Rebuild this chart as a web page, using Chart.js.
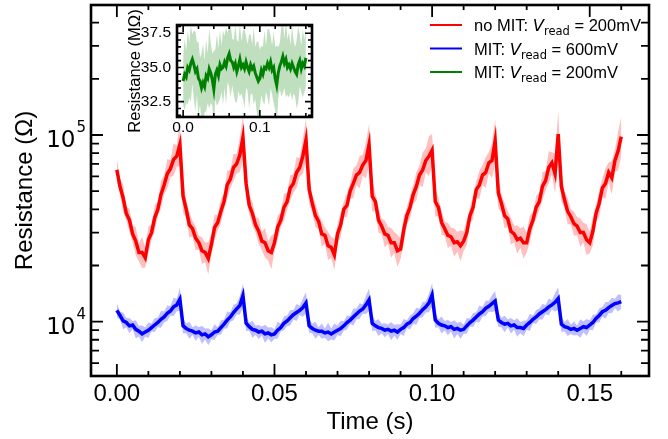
<!DOCTYPE html>
<html>
<head>
<meta charset="utf-8">
<script src="https://cdn.jsdelivr.net/npm/chart.js@4.4.0/dist/chart.umd.min.js"></script>
<style>
  body { margin: 0; background: #fff; }
  #wrap { position: relative; width: 668px; height: 439px; }
  #main { position: absolute; left: 0; top: 0; }
  #inset { position: absolute; left: 110px; top: 0; }
</style>
</head>
<body>
<div id="wrap">
  <canvas id="main" width="668" height="439"></canvas>
  <canvas id="inset" width="215" height="140"></canvas>
</div>
<script>
// sampling steps (s)
const mainStep = 0.001;
const insetStep = 0.002;

// no MIT, Vread = 200mV  (kOhm)
const redRes = [
  65, 53, 46, 38, 35, 29.5, 27, 23.5, 23.5, 22, 27.5, 30, 36, 40, 48, 54, 62, 66, 74, 77, 89,
  47, 40, 33, 31.5, 28, 26.5, 24, 23.5, 21.8, 26, 32, 34, 39, 44, 54, 58, 67, 70, 78, 97,
  55, 42, 38, 33, 30.5, 27, 26.5, 24, 23.5, 26.5, 32, 35, 41, 44, 52, 55, 63, 67, 77, 94,
  51, 43, 37, 34.5, 29.5, 29, 25.5, 25, 22.8, 29.5, 33, 40, 42, 50, 55, 61, 63, 69, 73, 89,
  47, 44, 35, 32.5, 29.5, 29, 26.5, 26.5, 24, 24.5, 31, 37, 41, 48, 53, 61, 65, 73, 77, 83,
  44, 41, 34, 31.5, 29, 28.5, 26.5, 26.8, 25.5, 27, 30, 37, 41, 51, 54, 61, 63, 71, 73, 93,
  49, 43, 37, 35.5, 30.5, 29.5, 27.5, 28, 26.5, 26.5, 31.5, 35, 41, 44, 53, 57, 67, 71, 62, 101,
  53, 45, 39, 36.5, 33.5, 32.5, 30, 30, 27.5, 26.5, 30.5, 38, 43, 52, 55, 63, 59, 73, 82, 98
];
// band half-width, percent
const redSpread = [
  16, 10, 18, 9, 15, 11, 19, 12, 21, 13, 18, 10, 17, 9, 19, 12, 20, 11, 22, 14, 30,
  22, 12, 17, 10, 16, 9, 18, 13, 22, 14, 17, 10, 16, 11, 19, 12, 18, 13, 23, 32,
  20, 11, 16, 10, 17, 12, 20, 13, 23, 12, 16, 9, 18, 11, 17, 12, 21, 12, 24, 30,
  19, 12, 15, 10, 17, 11, 19, 14, 21, 12, 17, 10, 16, 10, 20, 13, 22, 14, 25, 29,
  21, 11, 17, 10, 18, 11, 20, 14, 22, 13, 18, 11, 15, 12, 19, 13, 24, 16, 28, 22,
  20, 12, 16, 9, 17, 12, 19, 13, 21, 13, 17, 10, 16, 11, 19, 13, 21, 14, 24, 30,
  21, 12, 17, 10, 18, 11, 19, 13, 22, 13, 18, 10, 15, 11, 19, 13, 22, 14, 28, 32,
  20, 11, 17, 10, 16, 12, 19, 13, 21, 14, 19, 11, 17, 12, 21, 13, 23, 15, 27, 28
];

// MIT, Vread = 600mV  (kOhm)
const blueRes = [
  11.5, 10.8, 10.1, 9.9, 9.5, 9.6, 9.1, 8.9, 8.6, 8.8, 9.0, 9.3, 9.6, 9.9, 10.3, 10.6, 11.1, 11.4, 12.0, 12.3, 13.2,
  9.5, 9.2, 9.0, 8.9, 8.7, 8.8, 8.5, 8.6, 8.3, 8.5, 8.8, 8.9, 9.3, 9.7, 10.2, 10.6, 11.2, 11.7, 12.2, 13.8,
  9.8, 9.4, 9.1, 9.0, 8.8, 8.9, 8.6, 8.7, 8.5, 8.6, 9.0, 9.3, 9.8, 10.1, 10.5, 10.9, 11.2, 11.5, 11.9, 12.6,
  9.5, 9.2, 9.0, 8.9, 8.9, 8.7, 8.8, 8.6, 8.8, 9.0, 9.2, 9.5, 9.9, 10.2, 10.6, 11.0, 11.4, 11.7, 12.3, 13.1,
  9.8, 9.5, 9.3, 9.2, 9.0, 9.1, 8.9, 9.0, 8.8, 9.1, 9.3, 9.7, 9.9, 10.4, 10.7, 11.1, 11.6, 12.0, 12.6, 13.9,
  10.2, 9.8, 9.6, 9.5, 9.3, 9.4, 9.1, 9.2, 9.0, 9.1, 9.5, 9.9, 10.2, 10.6, 11.0, 11.3, 11.8, 12.1, 12.5, 12.9,
  10.2, 9.9, 9.7, 9.8, 9.5, 9.6, 9.3, 9.3, 9.2, 9.6, 9.9, 10.3, 10.6, 11.0, 11.3, 11.6, 12.0, 12.3, 12.7, 13.3,
  9.7, 9.4, 9.3, 9.1, 9.2, 9.0, 9.2, 9.4, 9.3, 9.6, 9.9, 10.4, 10.8, 11.3, 11.5, 11.9, 12.2, 12.5, 12.6, 12.8
];
const blueSpread = [
  9, 5, 11, 6, 10, 5, 12, 7, 11, 6, 10, 5, 9, 6, 11, 7, 10, 6, 12, 8, 15,
  10, 6, 11, 5, 10, 6, 12, 7, 11, 6, 10, 5, 9, 6, 11, 6, 10, 7, 12, 16,
  10, 5, 11, 6, 9, 6, 12, 7, 10, 6, 11, 5, 9, 7, 10, 6, 11, 6, 12, 14,
  9, 6, 11, 5, 10, 6, 12, 7, 11, 6, 10, 6, 9, 5, 11, 7, 10, 6, 12, 15,
  10, 6, 11, 6, 9, 6, 12, 7, 10, 6, 11, 5, 9, 7, 11, 6, 10, 7, 12, 16,
  10, 5, 11, 6, 10, 6, 12, 7, 11, 6, 10, 5, 9, 6, 11, 6, 10, 7, 11, 13,
  9, 6, 11, 5, 10, 6, 12, 7, 10, 6, 11, 5, 9, 7, 10, 6, 11, 6, 12, 15,
  10, 6, 11, 6, 9, 6, 12, 7, 11, 6, 10, 5, 9, 6, 11, 7, 10, 6, 11, 9
];

// MIT, Vread = 200mV  (MOhm), inset
const greenRes = [
  34.0, 34.5, 34.3, 35.0, 34.8, 35.3, 35.6, 35.2, 34.7, 34.9, 34.2, 34.0, 33.5, 33.9, 33.6, 34.4, 34.2, 34.9, 34.6, 34.1,
  33.4, 34.5, 34.8, 34.4, 35.2, 34.9, 35.0, 35.4, 35.1, 35.7, 36.0, 35.5, 35.4, 35.0, 35.3, 34.7, 35.1, 35.6, 35.0, 35.2,
  34.9, 35.4, 35.0, 34.7, 35.2, 34.9, 35.1, 34.6, 34.3, 34.0, 34.2, 34.8, 34.5, 35.0, 34.9, 35.3, 35.0, 35.4, 34.8, 35.0,
  34.2, 33.7, 34.6, 35.1, 35.4, 35.8, 35.3, 35.6, 35.0, 35.2, 34.9, 35.3, 35.0, 34.7, 34.5, 35.2, 35.5, 34.9, 35.3, 35.1, 35.7
];
const greenSpread = [
  1.8, 2.6, 1.9, 2.7, 2.0, 2.8, 1.8, 2.5, 2.9, 1.9, 2.7, 1.7, 2.5, 2.8, 1.9, 2.6, 1.8, 2.9, 2.2, 1.9,
  2.8, 1.8, 2.6, 2.0, 2.5, 1.7, 2.7, 1.9, 2.8, 1.8, 2.4, 2.7, 1.7, 2.0, 2.8, 2.3, 1.8, 2.7, 1.9, 2.5,
  2.9, 1.9, 1.7, 2.7, 2.2, 1.8, 2.8, 1.9, 2.6, 2.9, 2.1, 1.8, 2.0, 2.7, 1.7, 2.5, 2.8, 1.9, 1.8, 2.6,
  2.3, 2.9, 1.9, 1.7, 2.5, 2.7, 1.8, 2.8, 2.0, 2.4, 1.7, 2.7, 1.9, 1.8, 2.5, 2.8, 1.9, 1.7, 2.5, 1.9, 2.2
];

// ticks
const xMajorTicks = [0, 0.05, 0.10, 0.15];
const xTickLabels = ['0.00', '0.05', '0.10', '0.15'];
const xMinorTicks = [0.01, 0.02, 0.03, 0.04, 0.06, 0.07, 0.08, 0.09, 0.11, 0.12, 0.13, 0.14, 0.16];
const yMajorTicks = [10, 100];          // kOhm
const yTickExponents = ['4', '5'];
const yMinorTicks = [6, 7, 8, 9, 20, 30, 40, 50, 60, 70, 80, 90, 200, 300, 400];
const insetXMajor = [0, 0.1];
const insetXLabels = ['0.0', '0.1'];
const insetXMinor = [0.02, 0.04, 0.06, 0.08, 0.12, 0.14, 0.16];
const insetYMajor = [32.5, 35.0, 37.5];
const insetYLabels = ['32.5', '35.0', '37.5'];
const insetYMinor = [31.5, 32, 33, 33.5, 34, 34.5, 35.5, 36, 36.5, 37, 38];

const legendNames = ['no MIT: ', 'MIT: ', 'MIT: '];
const legendVolts = ['200mV', '600mV', '200mV'];
const legendColors = ['#ff0000', '#0000ff', '#008000'];

const mainTime = redRes.map((_, i) => +(i * mainStep).toFixed(3));
const insetTime = greenRes.map((_, i) => +(i * insetStep).toFixed(3));

const up = (v, s) => v.map((y, i) => y * (1 + s[i] / 100));
const lo = (v, s) => v.map((y, i) => y / (1 + s[i] / 100));

function frame(opt) {
  return {
    id: 'frame',
    beforeDatasetsDraw(chart) {
      if (!opt.white) return;
      const a = chart.chartArea, ctx = chart.ctx;
      ctx.save(); ctx.fillStyle = '#fff';
      ctx.fillRect(a.left, a.top, a.right - a.left, a.bottom - a.top);
      ctx.restore();
    },
    afterDatasetsDraw(chart) {
      const ctx = chart.ctx, a = chart.chartArea;
      const xs = chart.scales.x, ys = chart.scales.y;
      ctx.save();
      ctx.strokeStyle = '#000';
      ctx.lineWidth = opt.tickWidth;
      ctx.beginPath();
      const xt = (vals, len) => vals.forEach(v => {
        const p = xs.getPixelForValue(v);
        if (p < a.left || p > a.right) return;
        ctx.moveTo(p, a.bottom); ctx.lineTo(p, a.bottom - len);
        ctx.moveTo(p, a.top); ctx.lineTo(p, a.top + len);
      });
      const yt = (vals, len) => vals.forEach(v => {
        const p = ys.getPixelForValue(v);
        if (p < a.top || p > a.bottom) return;
        ctx.moveTo(a.left, p); ctx.lineTo(a.left + len, p);
        ctx.moveTo(a.right, p); ctx.lineTo(a.right - len, p);
      });
      xt(opt.xMajor, opt.majorLen); xt(opt.xMinor, opt.xMinorLen);
      yt(opt.yMajor, opt.majorLen); yt(opt.yMinor, opt.yMinorLen);
      ctx.stroke();
      ctx.lineWidth = opt.spineWidth;
      ctx.strokeRect(a.left, a.top, a.right - a.left, a.bottom - a.top);
      ctx.restore();
    }
  };
}

const mainLabels = {
  id: 'mainLabels',
  afterDraw(chart) {
    const ctx = chart.ctx, a = chart.chartArea;
    const xs = chart.scales.x, ys = chart.scales.y;
    ctx.save();
    ctx.fillStyle = '#000';
    // x tick labels
    ctx.font = '24px "Liberation Sans", Arial, sans-serif';
    ctx.textAlign = 'center';
    ctx.textBaseline = 'alphabetic';
    xMajorTicks.forEach((v, i) => ctx.fillText(xTickLabels[i], xs.getPixelForValue(v), a.bottom + 25));
    // y tick labels 10^n
    yMajorTicks.forEach((v, i) => {
      const p = ys.getPixelForValue(v);
      ctx.font = '15px "DejaVu Sans", sans-serif';
      const ew = ctx.measureText(yTickExponents[i]).width;
      ctx.textAlign = 'left';
      ctx.fillText(yTickExponents[i], a.left - 5 - ew, p - 3);
      ctx.font = '23px "DejaVu Sans", sans-serif';
      ctx.textAlign = 'right';
      ctx.fillText('10', a.left - 6 - ew, p + 12);
    });
    // axis titles
    ctx.font = '24px "Liberation Sans", Arial, sans-serif';
    ctx.textAlign = 'center';
    ctx.fillText('Time (s)', (a.left + a.right) / 2, a.bottom + 53);
    ctx.save();
    ctx.translate(32, (a.top + a.bottom) / 2);
    ctx.rotate(-Math.PI / 2);
    ctx.fillText('Resistance (\u03A9)', 0, 0);
    ctx.restore();
    // legend
    legendNames.forEach((name, i) => {
      const y = a.top + 20 + i * 23.5;
      const x0 = a.right - 219;
      ctx.strokeStyle = legendColors[i];
      ctx.lineWidth = 2;
      ctx.beginPath(); ctx.moveTo(x0, y); ctx.lineTo(x0 + 32, y); ctx.stroke();
      let x = x0 + 44;
      const by = y + 6;
      ctx.textAlign = 'left';
      ctx.font = '16.5px "Liberation Sans", Arial, sans-serif';
      ctx.fillText(name, x, by); x += ctx.measureText(name).width;
      ctx.font = 'italic 16.5px "DejaVu Sans", sans-serif';
      ctx.fillText('V', x, by); x += ctx.measureText('V').width;
      ctx.font = '11.5px "DejaVu Sans", sans-serif';
      ctx.fillText('read', x, by + 4); x += ctx.measureText('read').width;
      ctx.font = '16.5px "Liberation Sans", Arial, sans-serif';
      ctx.fillText(' = ' + legendVolts[i], x, by);
    });
    ctx.restore();
  }
};

const insetLabels = {
  id: 'insetLabels',
  afterDraw(chart) {
    const ctx = chart.ctx, a = chart.chartArea;
    const xs = chart.scales.x, ys = chart.scales.y;
    ctx.save();
    ctx.fillStyle = '#000';
    ctx.font = '15.5px "Liberation Sans", Arial, sans-serif';
    ctx.textAlign = 'right';
    ctx.textBaseline = 'middle';
    insetYMajor.forEach((v, i) => ctx.fillText(insetYLabels[i], a.left - 6, ys.getPixelForValue(v)));
    ctx.textAlign = 'center';
    ctx.textBaseline = 'alphabetic';
    insetXMajor.forEach((v, i) => ctx.fillText(insetXLabels[i], xs.getPixelForValue(v), a.bottom + 15));
    ctx.font = '16.5px "Liberation Sans", Arial, sans-serif';
    ctx.save();
    ctx.translate(30, (a.top + a.bottom) / 2);
    ctx.rotate(-Math.PI / 2);
    ctx.fillText('Resistance (M\u03A9)', 0, 0);
    ctx.restore();
    ctx.restore();
  }
};

const lineDs = (data, color, w) => ({
  data, borderColor: color, borderWidth: w, pointRadius: 0, fill: false, tension: 0
});
const bandDs = (data, color, fill) => ({
  data, borderWidth: 0, borderColor: 'rgba(0,0,0,0)', backgroundColor: color, pointRadius: 0, fill, tension: 0
});

new Chart(document.getElementById('main'), {
  type: 'line',
  data: {
    labels: mainTime,
    datasets: [
      lineDs(redRes, '#ff0000', 3.5),
      lineDs(blueRes, '#0000ff', 3.5),
      bandDs(up(redRes, redSpread), 'rgba(255,0,0,0.25)', '+1'),
      bandDs(lo(redRes, redSpread), 'rgba(255,0,0,0.25)', false),
      bandDs(up(blueRes, blueSpread), 'rgba(0,0,255,0.25)', '+1'),
      bandDs(lo(blueRes, blueSpread), 'rgba(0,0,255,0.25)', false)
    ]
  },
  options: {
    responsive: false,
    animation: false,
    events: [],
    layout: { padding: { left: 91, top: 5, right: 19, bottom: 63 } },
    plugins: { legend: { display: false }, tooltip: { enabled: false } },
    scales: {
      x: { type: 'linear', display: false, min: -0.0082, max: 0.1688 },
      y: { type: 'logarithmic', display: false, min: 5.117, max: 497 }
    }
  },
  plugins: [
    frame({ xMajor: xMajorTicks, xMinor: xMinorTicks, yMajor: yMajorTicks, yMinor: yMinorTicks,
      majorLen: 12, xMinorLen: 5, yMinorLen: 8, tickWidth: 1.8, spineWidth: 2.6 }),
    mainLabels
  ]
});

new Chart(document.getElementById('inset'), {
  type: 'line',
  data: {
    labels: insetTime,
    datasets: [
      lineDs(greenRes, '#008000', 3),
      bandDs(greenRes.map((v, i) => v + greenSpread[i]), 'rgba(0,128,0,0.25)', '+1'),
      bandDs(greenRes.map((v, i) => v - greenSpread[i]), 'rgba(0,128,0,0.25)', false)
    ]
  },
  options: {
    responsive: false,
    animation: false,
    events: [],
    layout: { padding: { left: 67, top: 25, right: 13, bottom: 23 } },
    plugins: { legend: { display: false }, tooltip: { enabled: false } },
    scales: {
      x: { type: 'linear', display: false, min: -0.008, max: 0.168 },
      y: { type: 'linear', display: false, min: 31.38, max: 38.1 }
    }
  },
  plugins: [
    frame({ white: true, xMajor: insetXMajor, xMinor: insetXMinor, yMajor: insetYMajor, yMinor: insetYMinor,
      majorLen: 7, xMinorLen: 4, yMinorLen: 4, tickWidth: 1.6, spineWidth: 2.6 }),
    insetLabels
  ]
});
</script>
</body>
</html>
